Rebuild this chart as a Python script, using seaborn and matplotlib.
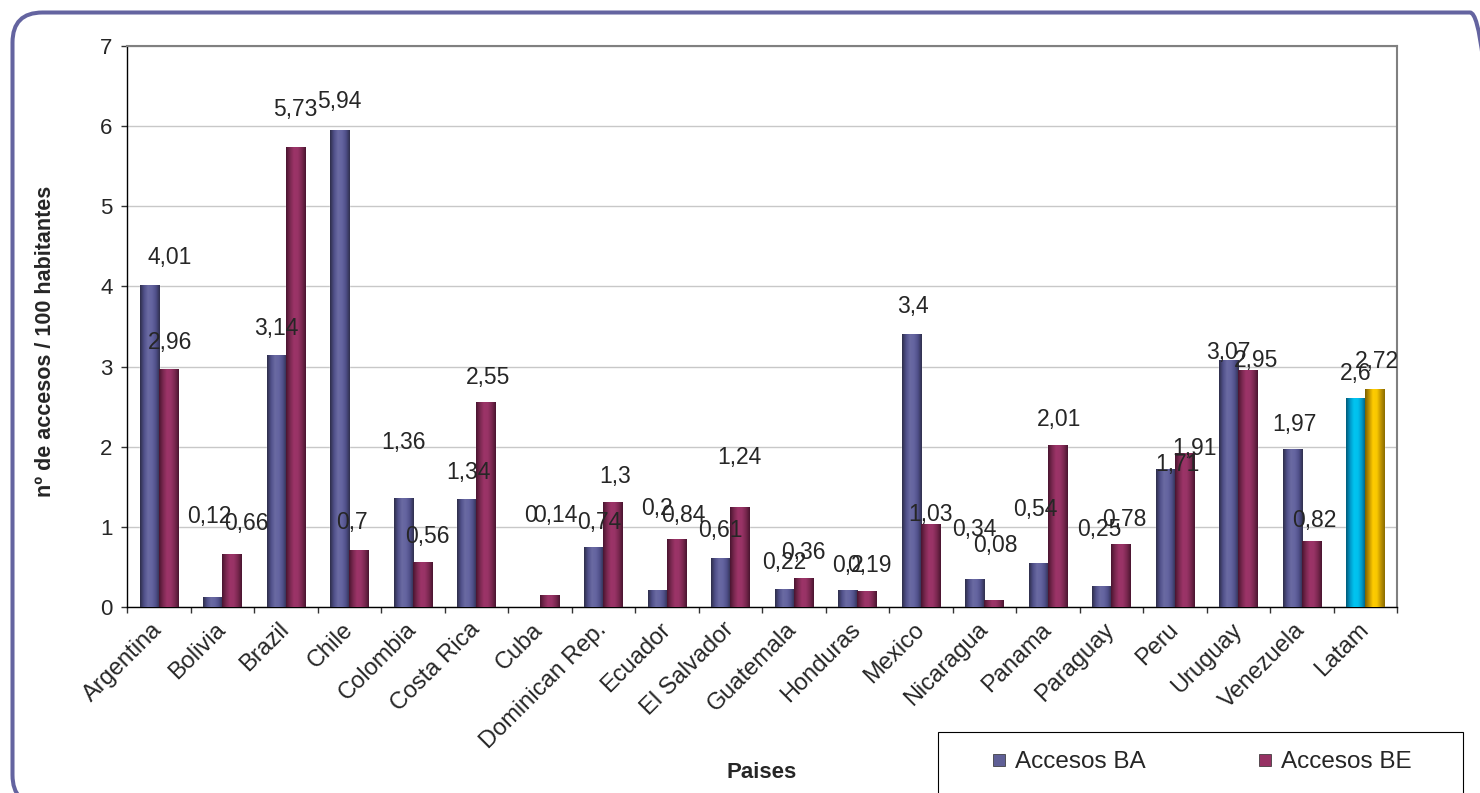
import numpy as np
import pandas as pd
import matplotlib
matplotlib.use("Agg")
import matplotlib.pyplot as plt
import seaborn as sns
from matplotlib.colors import LinearSegmentedColormap
from matplotlib.patches import FancyBboxPatch, Rectangle
from matplotlib.lines import Line2D
from matplotlib.transforms import IdentityTransform, ScaledTranslation

# data
paises = ["Argentina", "Bolivia", "Brazil", "Chile", "Colombia", "Costa Rica",
          "Cuba", "Dominican Rep.", "Ecuador", "El Salvador", "Guatemala",
          "Honduras", "Mexico", "Nicaragua", "Panama", "Paraguay", "Peru",
          "Uruguay", "Venezuela", "Latam"]
accesos_ba = [4.01, 0.12, 3.14, 5.94, 1.36, 1.34, 0, 0.74, 0.2, 0.61, 0.22,
              0.2, 3.4, 0.34, 0.54, 0.25, 1.71, 3.07, 1.97, 2.6]
accesos_be = [2.96, 0.66, 5.73, 0.7, 0.56, 2.55, 0.14, 1.3, 0.84, 1.24, 0.36,
              0.19, 1.03, 0.08, 2.01, 0.78, 1.91, 2.95, 0.82, 2.72]
series = ["Accesos BA", "Accesos BE"]

# label nudges (pixels) – the original labels were placed by hand
lift_ba = [28, 81, 27, 29, 56, 27, 91, 25, 82, 28, 27, 25, 28, 50, 54, 57, 5, 8, 25, 25]
lift_be = [27, 31, 38, 28, 26, 25, 80, 26, 24, 50, 26, 26, 10, 55, 26, 25, 5, 10, 21, 28]
shift_ba = [20, -3, 0, 0, 0, 2, 0, 6, 0, 0, 0, 0, 2, 0, -3, -2, 12, 0, 2, 0]
shift_be = [2, 15, 0, -7, 5, 2, 6, 2, 7, 0, 0, 3, 0, 2, 2, 4, 10, 8, 3, 2]

df = pd.DataFrame({
    "Pais": paises * 2,
    "valor": accesos_ba + accesos_be,
    "serie": [series[0]] * len(paises) + [series[1]] * len(paises),
})

sns.set_style("white")
plt.rcParams["font.family"] = ["Liberation Sans", "DejaVu Sans"]

col_ba = "#5f5f96"
col_be = "#963163"
cm_ba = LinearSegmentedColormap.from_list("ba", ["#2e2e4a", "#50508a", "#6a6aa2", "#6464a0", "#50508a", "#30304e"])
cm_be = LinearSegmentedColormap.from_list("be", ["#4a1530", "#7a2850", "#9c3468", "#983366", "#7a2850", "#4a1530"])
cm_lat_ba = LinearSegmentedColormap.from_list("lba", ["#005a78", "#0098c8", "#00c4f0", "#00c0ee", "#0098c8", "#005a78"])
cm_lat_be = LinearSegmentedColormap.from_list("lbe", ["#7a6000", "#c09400", "#ffcc00", "#f8c800", "#c09400", "#8a6c00"])

fig = plt.figure(figsize=(14.8, 7.93), dpi=100)
ax = fig.add_axes([127 / 1480, 1 - 607 / 793, 1270 / 1480, 561 / 793])

sns.barplot(data=df, x="Pais", y="valor", hue="serie", order=paises, hue_order=series,
            palette=[col_ba, col_be], width=0.6, errorbar=None, saturation=1,
            legend=False, ax=ax)

# cylinder-like shading over each bar
grad = np.linspace(0, 1, 64)[None, :]
for k, cont in enumerate(ax.containers):
    for j, bar in enumerate(cont):
        h = bar.get_height()
        if h <= 0:
            continue
        if paises[j] == "Latam":
            cmap = cm_lat_ba if k == 0 else cm_lat_be
        else:
            cmap = cm_ba if k == 0 else cm_be
        x0 = bar.get_x()
        ax.imshow(grad, extent=[x0, x0 + bar.get_width(), 0, h], cmap=cmap,
                  aspect="auto", interpolation="bilinear", zorder=3)

# value labels
for cont, vals, lifts, shifts in zip(ax.containers, [accesos_ba, accesos_be],
                                     [lift_ba, lift_be], [shift_ba, shift_be]):
    for j, bar in enumerate(cont):
        ax.annotate(f"{vals[j]:g}".replace(".", ","),
                    (bar.get_x() + bar.get_width() / 2, vals[j]),
                    xytext=(shifts[j] * 0.72, lifts[j] * 0.72), textcoords="offset points",
                    ha="center", va="center", fontsize=16.5, zorder=5)

ax.set_xlim(-0.5, len(paises) - 0.5)
ax.set_ylim(0, 7)
ax.set_yticks(range(8))
ax.yaxis.grid(True, color="#c8c8c8", lw=1)
ax.set_axisbelow(True)

ax.set_xticks(range(len(paises)))
ax.set_xticks(np.arange(-0.5, len(paises)), minor=True)
ax.set_xticklabels(paises, rotation=45, ha="right", va="center", rotation_mode="anchor", fontsize=17)
shift = ScaledTranslation(-16 / 100, 0, fig.dpi_scale_trans)
for lbl in ax.get_xticklabels():
    lbl.set_transform(lbl.get_transform() + shift)
ax.tick_params(axis="x", which="major", bottom=True, length=0, pad=14)
ax.tick_params(axis="x", which="minor", bottom=True, length=4.5, width=1, color="#333333", direction="out")
ax.tick_params(axis="y", left=True, length=4.5, width=1, color="#333333", labelsize=16, pad=6)

for side in ["left", "bottom"]:
    ax.spines[side].set_color("black")
    ax.spines[side].set_linewidth(1)
for side in ["top", "right"]:
    ax.spines[side].set_visible(True)
    ax.spines[side].set_color("#808080")
    ax.spines[side].set_linewidth(1.5)

ax.set_xlabel("Paises", fontsize=16, fontweight="bold")
ax.set_ylabel("nº de accesos / 100 habitantes", fontsize=15.5, fontweight="bold")
ax.xaxis.set_label_coords(0.5, -0.276)
ax.yaxis.set_label_coords(-0.056, 0.474)

# legend box (runs off the bottom edge like the original)
fig.patches.append(Rectangle((938, -20), 1463 - 938, 793 - 732 + 20, transform=IdentityTransform(),
                             facecolor="white", edgecolor="black", lw=0.8, zorder=1))
handles = [Line2D([], [], marker="s", linestyle="none", markersize=9, markerfacecolor=c,
                  markeredgecolor="#2a2a2a", markeredgewidth=0.5) for c in [col_ba, col_be]]
fig.legend(handles, series, loc="center left", bbox_to_anchor=(992 / 1480, 1 - 762 / 793),
           ncol=2, frameon=False, fontsize=17.5, handletextpad=0.35, columnspacing=4.6,
           borderpad=0, borderaxespad=0, handlelength=0.6)

# rounded outer frame
fig.patches.append(FancyBboxPatch((12.5, -12), 1487.5, 792.5, boxstyle="round,pad=0,rounding_size=30",
                                  transform=IdentityTransform(), facecolor="none",
                                  edgecolor="#6464a0", lw=2.9, zorder=0))

fig.savefig("out.png", dpi=100)
